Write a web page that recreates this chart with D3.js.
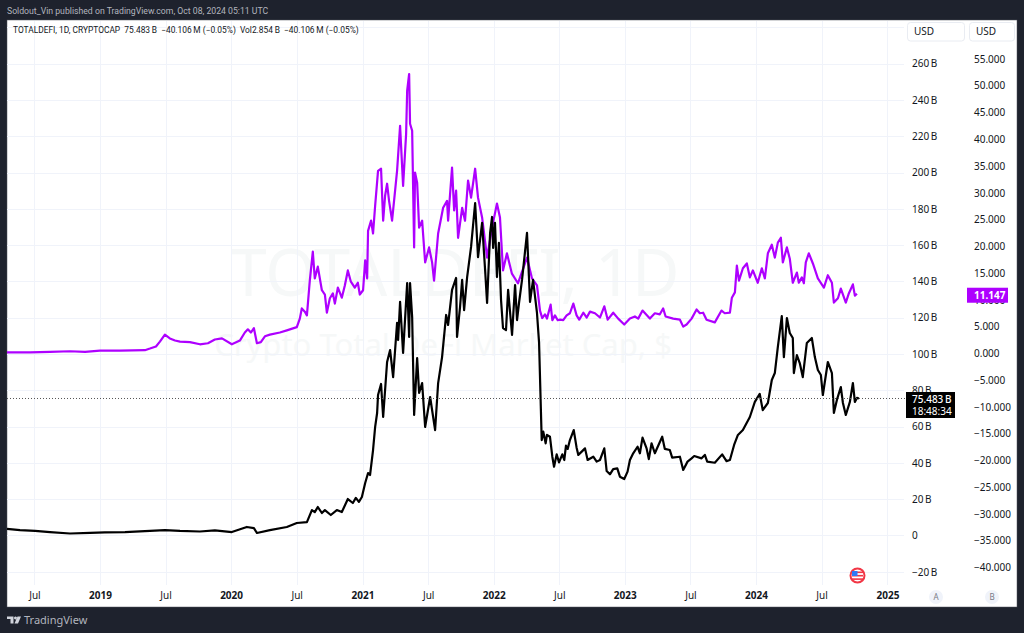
<!DOCTYPE html>
<html>
<head>
<meta charset="utf-8">
<script src="https://cdn.jsdelivr.net/npm/d3@7"></script>
<style>
  html, body { margin: 0; padding: 0; background: #1e222d; }
  svg { display: block; font-family: "Noto Sans", sans-serif; }
</style>
</head>
<body>
<svg id="chart" width="1024" height="633"></svg>
<script>
// tick labels
const leftTicks = [-20, 0, 20, 40, 60, 80, 100, 120, 140, 160, 180, 200, 220, 240, 260];
const rightTicks = [-40, -35, -30, -25, -20, -15, -10, -5, 0, 5, 10, 15, 20, 25, 30, 35, 40, 45, 50, 55];
const xTickYears = [2018.5, 2019, 2019.5, 2020, 2020.5, 2021, 2021.5, 2022, 2022.5, 2023, 2023.5, 2024, 2024.5, 2025];
const xTickLabels = ["Jul", "2019", "Jul", "2020", "Jul", "2021", "Jul", "2022", "Jul", "2023", "Jul", "2024", "Jul", "2025"];

// purple series, read against the right hand scale (B)
const purpleYears = [
  2018.291, 2018.467, 2018.619, 2018.771, 2018.886, 2019.0, 2019.152, 2019.343, 2019.381, 2019.427, 2019.457, 2019.495, 2019.533, 2019.572, 2019.61, 2019.686, 2019.762, 2019.823, 2019.876, 2019.93,
  2020.006, 2020.067, 2020.105, 2020.128, 2020.151, 2020.174, 2020.197, 2020.227, 2020.258, 2020.296, 2020.372, 2020.425, 2020.501, 2020.524, 2020.539, 2020.562, 2020.578, 2020.6, 2020.623, 2020.638,
  2020.661, 2020.692, 2020.715, 2020.73, 2020.753, 2020.776, 2020.791, 2020.814, 2020.844, 2020.867, 2020.89, 2020.913, 2020.943, 2020.966, 2020.981, 2021.004, 2021.02, 2021.035, 2021.042, 2021.065,
  2021.08, 2021.096, 2021.118, 2021.141, 2021.157, 2021.172, 2021.187, 2021.202, 2021.225, 2021.248, 2021.263, 2021.286, 2021.309, 2021.332, 2021.34, 2021.355, 2021.362, 2021.378, 2021.393, 2021.4,
  2021.416, 2021.431, 2021.454, 2021.477, 2021.507, 2021.53, 2021.545, 2021.576, 2021.614, 2021.644, 2021.652, 2021.682, 2021.698, 2021.713, 2021.728, 2021.759, 2021.781, 2021.804, 2021.827, 2021.858,
  2021.88, 2021.911, 2021.949, 2021.987, 2022.025, 2022.048, 2022.071, 2022.101, 2022.139, 2022.185, 2022.254, 2022.292, 2022.33, 2022.353, 2022.37, 2022.391, 2022.406, 2022.434, 2022.447, 2022.467,
  2022.488, 2022.505, 2022.53, 2022.556, 2022.581, 2022.607, 2022.632, 2022.652, 2022.683, 2022.709, 2022.734, 2022.772, 2022.81, 2022.843, 2022.869, 2022.911, 2022.949, 2022.995, 2023.039, 2023.077,
  2023.102, 2023.135, 2023.191, 2023.229, 2023.267, 2023.292, 2023.311, 2023.369, 2023.42, 2023.445, 2023.471, 2023.509, 2023.547, 2023.572, 2023.597, 2023.623, 2023.686, 2023.737, 2023.762, 2023.801,
  2023.816, 2023.839, 2023.854, 2023.87, 2023.9, 2023.93, 2023.953, 2023.976, 2024.014, 2024.045, 2024.068, 2024.091, 2024.121, 2024.144, 2024.167, 2024.19, 2024.205, 2024.236, 2024.258,
  2024.281, 2024.312, 2024.327, 2024.35, 2024.365, 2024.38, 2024.403, 2024.434, 2024.472, 2024.518, 2024.548, 2024.579, 2024.594, 2024.625, 2024.647, 2024.685, 2024.708, 2024.739, 2024.754, 2024.77
];
const purpleValues = [
  0.2, 0.2, 0.3, 0.4, 0.3, 0.5, 0.5, 0.6, 0.9, 1.3, 2.2, 3.5, 2.8, 2.4, 2.2, 2.1, 1.7, 1.9, 2.6, 2.8,
  1.7, 2.4, 3.9, 4.5, 3.9, 4.7, 1.9, 2.1, 3.2, 3.5, 3.9, 4.3, 4.9, 6.5, 8.4, 7.8, 7.1, 13.6, 19.0, 14.0,
  16.2, 11.8, 11.0, 7.6, 10.3, 11.2, 9.3, 12.3, 10.4, 12.7, 15.5, 13.4, 12.3, 13.2, 11.0, 11.8, 17.4, 14.0, 22.9, 24.8,
  22.4, 27.6, 34.1, 34.5, 24.8, 29.5, 31.7, 28.5, 24.8, 30.4, 34.1, 42.5, 31.3, 41.0, 49.1, 52.2, 42.9, 41.6, 19.8, 33.8,
  31.9, 23.5, 24.8, 17.0, 19.8, 17.0, 13.6, 22.4, 27.2, 28.5, 24.8, 34.7, 26.7, 30.4, 21.6, 27.2, 24.8, 32.3, 29.1, 34.5,
  29.1, 25.4, 17.9, 23.5, 28.0, 25.4, 15.5, 18.7, 14.9, 13.1, 17.9, 14.0, 12.7, 8.0, 6.6, 7.3, 6.5, 9.1, 6.2, 7.1,
  6.2, 6.3, 6.2, 7.1, 7.5, 9.3, 7.1, 6.3, 7.6, 6.7, 7.8, 7.5, 6.7, 8.8, 6.3, 7.6, 6.5, 5.4, 6.5, 6.9,
  6.5, 8.0, 6.5, 7.5, 7.3, 8.4, 6.9, 6.5, 6.3, 5.0, 5.4, 6.5, 8.2, 7.5, 7.6, 6.3, 5.8, 8.0, 7.5, 7.6,
  10.4, 11.4, 16.4, 13.6, 15.9, 16.8, 14.2, 15.5, 13.2, 15.9, 14.0, 18.7, 20.3, 17.9, 20.7, 21.6, 17.0, 19.8, 17.7,
  13.2, 15.1, 13.2, 14.2, 13.1, 17.0, 18.7, 16.8, 14.0, 12.3, 14.6, 13.2, 9.5, 10.3, 12.1, 9.5, 11.2, 12.9, 10.8, 11.147
];

// black series, read against the left hand scale in billions (A)
const blackYears = [
  2018.291, 2018.39, 2018.505, 2018.619, 2018.771, 2018.924, 2019.038, 2019.191, 2019.381, 2019.495, 2019.61, 2019.762, 2019.876, 2020.006, 2020.12, 2020.174, 2020.197, 2020.296, 2020.425, 2020.501,
  2020.578, 2020.616, 2020.638, 2020.661, 2020.692, 2020.715, 2020.76, 2020.806, 2020.844, 2020.89, 2020.928, 2020.951, 2020.974, 2020.997, 2021.02, 2021.042, 2021.057, 2021.08, 2021.096, 2021.111,
  2021.118, 2021.141, 2021.157, 2021.187, 2021.21, 2021.233, 2021.263, 2021.271, 2021.286, 2021.309, 2021.34, 2021.355, 2021.362, 2021.378, 2021.393, 2021.416, 2021.431, 2021.454, 2021.477, 2021.515,
  2021.553, 2021.576, 2021.606, 2021.637, 2021.652, 2021.682, 2021.713, 2021.72, 2021.743, 2021.759, 2021.774, 2021.797, 2021.827, 2021.858, 2021.88, 2021.911, 2021.934, 2021.949, 2021.972, 2021.987,
  2021.995, 2022.01, 2022.025, 2022.04, 2022.056, 2022.071, 2022.094, 2022.11, 2022.14, 2022.163, 2022.178, 2022.193, 2022.216, 2022.254, 2022.277, 2022.3, 2022.33, 2022.346, 2022.366, 2022.378,
  2022.396, 2022.406, 2022.429, 2022.447, 2022.46, 2022.48, 2022.498, 2022.523, 2022.538, 2022.551, 2022.564, 2022.581, 2022.61, 2022.632, 2022.645, 2022.671, 2022.696, 2022.716, 2022.759, 2022.785,
  2022.81, 2022.843, 2022.861, 2022.886, 2022.911, 2022.942, 2022.962, 2022.995, 2023.021, 2023.039, 2023.064, 2023.097, 2023.115, 2023.135, 2023.166, 2023.183, 2023.204, 2023.229, 2023.285, 2023.305,
  2023.343, 2023.361, 2023.42, 2023.445, 2023.478, 2023.509, 2023.529, 2023.585, 2023.61, 2023.628, 2023.686, 2023.742, 2023.775, 2023.801, 2023.833, 2023.862, 2023.9, 2023.953, 2023.991, 2024.029,
  2024.052, 2024.091, 2024.121, 2024.144, 2024.167, 2024.197, 2024.213, 2024.236, 2024.258, 2024.281, 2024.289, 2024.312, 2024.334, 2024.357, 2024.388, 2024.426, 2024.449, 2024.472, 2024.495, 2024.51,
  2024.548, 2024.579, 2024.594, 2024.617, 2024.647, 2024.663, 2024.685, 2024.716, 2024.739, 2024.754, 2024.77, 2024.785
];
const blackValues = [
  3.6, 3.0, 2.5, 1.9, 1.1, 1.4, 1.7, 1.9, 2.5, 3.0, 2.5, 2.2, 2.8, 1.9, 4.7, 4.1, 1.4, 3.0, 4.7, 6.9,
  7.4, 14.0, 12.9, 15.7, 12.4, 14.0, 11.3, 14.0, 12.9, 20.1, 17.9, 20.7, 18.5, 21.2, 28.9, 34.4, 33.3, 47.1, 59.8, 67.5,
  77.4, 83.5, 65.3, 95.6, 102.2, 87.3, 117.1, 107.7, 128.7, 100.6, 139.1, 109.4, 139.1, 120.4, 66.4, 97.8, 78.5, 84.0, 59.8, 76.3,
  58.1, 84.0, 98.3, 121.5, 116.0, 135.3, 141.9, 109.4, 125.9, 140.8, 124.2, 142.4, 159.0, 183.2, 153.4, 172.2, 146.3, 128.1, 166.7, 175.5,
  158.4, 172.2, 142.4, 161.2, 129.8, 114.3, 113.2, 135.3, 110.5, 138.0, 118.7, 128.1, 140.8, 166.7, 128.7, 140.8, 122.6, 106.1, 52.6, 57.2,
  50.8, 55.4, 54.4, 43.4, 37.9, 44.7, 40.3, 44.7, 41.6, 49.5, 47.7, 52.6, 58.1, 48.4, 44.4, 46.2, 48.0, 41.6, 43.4, 40.7,
  41.6, 48.0, 35.5, 33.7, 36.6, 37.0, 32.4, 31.1, 35.2, 41.6, 45.3, 48.9, 45.3, 53.9, 48.0, 42.1, 50.8, 45.3, 54.4, 47.7,
  47.1, 42.9, 43.4, 36.1, 40.7, 42.5, 43.8, 42.5, 44.4, 40.7, 40.1, 44.7, 41.0, 41.6, 49.9, 55.4, 58.1, 65.3, 73.6, 78.0,
  69.1, 73.0, 85.7, 89.5, 103.9, 120.9, 98.3, 119.8, 111.6, 108.8, 89.5, 99.4, 95.0, 87.3, 106.1, 108.8, 98.3, 91.2, 88.4, 77.4,
  95.6, 89.5, 67.5, 74.7, 81.8, 73.0, 66.4, 73.6, 84.0, 73.6, 75.8, 75.483
];

const toDate = y => {
  const whole = Math.floor(y);
  return new Date(Date.UTC(whole, 0, 1) + (y - whole) * 365.25 * 864e5);
};

const svg = d3.select("#chart");

// white chart panel
svg.append("rect")
  .attr("x", 7).attr("y", 20)
  .attr("width", 1010).attr("height", 587)
  .attr("fill", "#ffffff").attr("stroke", "#50535e").attr("stroke-width", 0.5);

const x = d3.scaleTime()
  .domain([toDate(2018.291), toDate(2025.134)])
  .range([7, 905]);
const yLeft = d3.scaleLinear().domain([-20, 260]).range([571.8, 63.6]);
const yRight = d3.scaleLinear().domain([-40, 55]).range([567.5, 59]);

// watermark
svg.append("text").attr("x", 455).attr("y", 296)
  .attr("text-anchor", "middle").attr("font-size", 65).attr("fill", "#f6f8f8")
  .text("TOTALDEFI, 1D");
svg.append("text").attr("x", 443).attr("y", 356)
  .attr("text-anchor", "middle").attr("font-size", 31).attr("fill", "#f6f8f8")
  .text("Crypto Total DeFi Market Cap, $");

// grid
const gridTicks = leftTicks.concat([280]);
svg.append("g").selectAll("line").data(gridTicks).join("line")
  .attr("x1", 7).attr("x2", 904)
  .attr("y1", d => Math.round(yLeft(d)) + 0.5).attr("y2", d => Math.round(yLeft(d)) + 0.5)
  .attr("stroke", "#f0f3fa");
svg.append("g").selectAll("line").data(xTickYears).join("line")
  .attr("y1", 21).attr("y2", 585)
  .attr("x1", d => Math.round(x(toDate(d))) + 0.5).attr("x2", d => Math.round(x(toDate(d))) + 0.5)
  .attr("stroke", "#f0f3fa");

// series
const purplePoints = purpleYears.map((d, i) => [toDate(d), purpleValues[i]]);
const blackPoints = blackYears.map((d, i) => [toDate(d), blackValues[i]]);

svg.append("path")
  .datum(purplePoints)
  .attr("fill", "none").attr("stroke", "#ae00ff").attr("stroke-width", 2.2)
  .attr("stroke-linejoin", "round")
  .attr("d", d3.line().x(d => x(d[0])).y(d => yRight(d[1])));

svg.append("path")
  .datum(blackPoints)
  .attr("fill", "none").attr("stroke", "#000000").attr("stroke-width", 2.2)
  .attr("stroke-linejoin", "round")
  .attr("d", d3.line().x(d => x(d[0])).y(d => yLeft(d[1])));

// last price line
const lastBlack = blackValues[blackValues.length - 1];
const lastPurple = purpleValues[purpleValues.length - 1];
svg.append("line")
  .attr("x1", 7).attr("x2", 905)
  .attr("y1", yLeft(lastBlack)).attr("y2", yLeft(lastBlack))
  .attr("stroke", "#555555").attr("stroke-dasharray", "1 2");

// axes
const xAxis = d3.axisBottom(x)
  .tickValues(xTickYears.map(toDate))
  .tickSize(0)
  .tickFormat((d, i) => xTickLabels[i]);
const gx = svg.append("g").attr("transform", "translate(0,589)").call(xAxis);
gx.select(".domain").remove();
gx.selectAll("text")
  .attr("font-family", "Noto Sans").attr("font-size", 10).attr("fill", "#131722")
  .attr("font-weight", (d, i) => xTickLabels[i] === "Jul" ? 400 : 700);

const leftAxis = d3.axisRight(yLeft)
  .tickValues(leftTicks).tickSize(0).tickPadding(0)
  .tickFormat(d => (d < 0 ? "\u2212" + Math.abs(d) : d) + (d === 0 ? "" : "\u2009B"));
const gl = svg.append("g").attr("transform", "translate(912,0)").call(leftAxis);
gl.select(".domain").remove();
gl.selectAll("text").attr("font-family", "Noto Sans").attr("font-size", 10).attr("fill", "#131722");

const rightAxis = d3.axisRight(yRight)
  .tickValues(rightTicks).tickSize(0).tickPadding(0)
  .tickFormat(d => (d < 0 ? "\u2212" : "") + d3.format(".3f")(Math.abs(d)));
const gr = svg.append("g").attr("transform", "translate(974,0)").call(rightAxis);
gr.select(".domain").remove();
gr.selectAll("text").attr("font-family", "Noto Sans").attr("font-size", 10).attr("fill", "#131722");

// currency boxes
[[907, 57, 914], [969, 45, 976]].forEach(b => {
  svg.append("rect").attr("x", b[0] + 0.5).attr("y", 22.5).attr("width", b[1]).attr("height", 18.5)
    .attr("rx", 3).attr("fill", "#ffffff").attr("stroke", "#e9ecf2");
  svg.append("text").attr("x", b[2]).attr("y", 35).attr("font-size", 10).attr("fill", "#131722").text("USD");
});

// price labels
svg.append("rect").attr("x", 967).attr("y", yRight(lastPurple) - 6).attr("width", 41).attr("height", 15).attr("fill", "#ae00ff");
svg.append("text").attr("x", 974).attr("y", yRight(lastPurple) + 5)
  .attr("font-size", 10).attr("font-weight", 700).attr("fill", "#ffffff").text("11.147");

svg.append("rect").attr("x", 906).attr("y", 392).attr("width", 49).attr("height", 26).attr("fill", "#000000");
svg.append("text").attr("x", 912).attr("y", 403).attr("font-size", 10).attr("font-weight", 500).attr("fill", "#ffffff").text("75.483\u2009B");
svg.append("text").attr("x", 912).attr("y", 415).attr("font-size", 10).attr("fill", "#ffffff").text("18:48:34");

// header and legend
svg.append("text").attr("x", 7).attr("y", 14).attr("font-family", "Roboto").attr("font-size", 8.7).attr("fill", "#b2b5be")
  .text("Soldout_Vin published on TradingView.com, Oct 08, 2024 05:11 UTC");
svg.append("text").attr("x", 13).attr("y", 33).attr("font-family", "Roboto").attr("font-size", 8.4).attr("fill", "#131722")
  .style("white-space", "pre")
  .text("TOTALDEFI, 1D, CRYPTOCAP  75.483\u2009B  \u221240.106\u2009M (\u22120.05%)  Vol2.854\u2009B  \u221240.106\u2009M (\u22120.05%)");

// flag marker
const flag = svg.append("g").attr("transform", "translate(857.5,575.5)");
flag.append("circle").attr("r", 7).attr("fill", "#ffffff").attr("stroke", "#f23645").attr("stroke-width", 2);
flag.append("rect").attr("x", -5.5).attr("y", -4).attr("width", 11).attr("height", 1.6).attr("fill", "#f23645");
flag.append("rect").attr("x", -5.5).attr("y", -0.6).attr("width", 11).attr("height", 1.6).attr("fill", "#f23645");
flag.append("rect").attr("x", -5.5).attr("y", 2.8).attr("width", 11).attr("height", 1.6).attr("fill", "#f23645");
flag.append("rect").attr("x", -5.5).attr("y", -4.5).attr("width", 5.5).attr("height", 5).attr("fill", "#3179f5");

// scale buttons
[[936, "A"], [992, "B"]].forEach(b => {
  svg.append("circle").attr("cx", b[0]).attr("cy", 597).attr("r", 7).attr("fill", "#f0f3fa");
  svg.append("text").attr("x", b[0]).attr("y", 600).attr("text-anchor", "middle")
    .attr("font-size", 8).attr("fill", "#787b86").text(b[1]);
});

// footer logo
svg.append("path").attr("fill", "#d1d4dc")
  .attr("d", "M7 616.5h6.5v7H10.5v-4.5H7z M15.5 616.5a1.5 1.5 0 1 0 0.01 0z M17.5 616.5h3.5l-3 7h-3.5z");
svg.append("text").attr("x", 24).attr("y", 624).attr("font-size", 11).attr("fill", "#b2b5be").text("TradingView");
</script>
</body>
</html>
